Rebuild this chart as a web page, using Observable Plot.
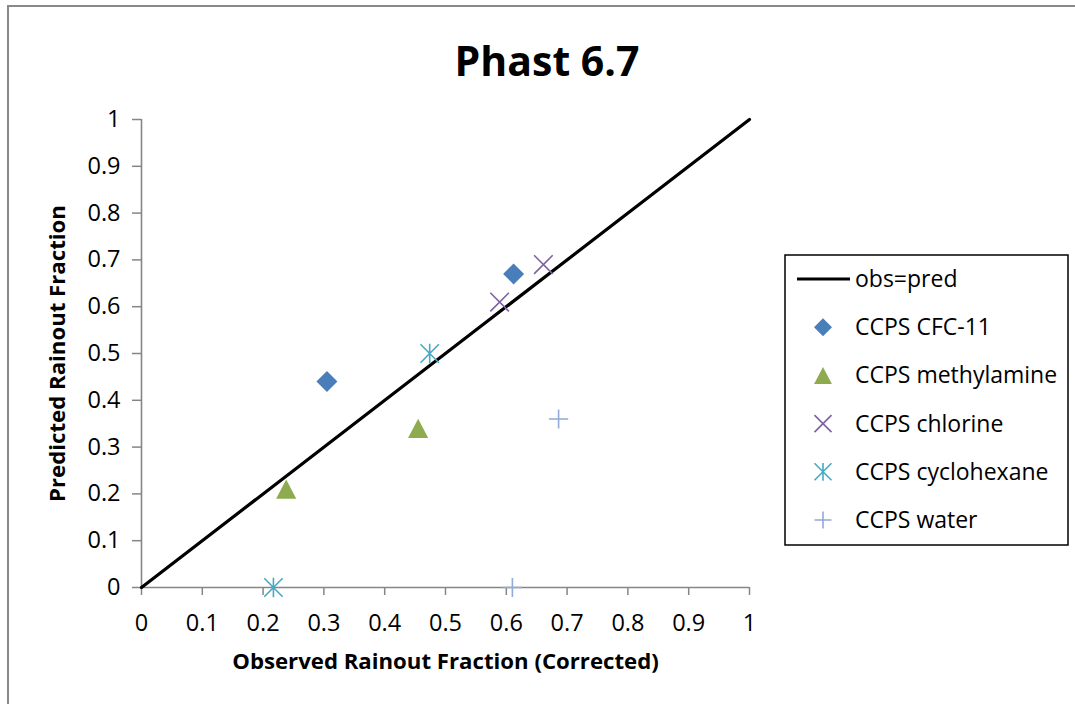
<!DOCTYPE html>
<html>
<head>
<meta charset="utf-8">
<script src="https://cdn.jsdelivr.net/npm/d3@7"></script>
<script src="https://cdn.jsdelivr.net/npm/@observablehq/plot@0.6"></script>
<style>
  html, body { margin: 0; padding: 0; background: #fff; }
  #chart { position: relative; width: 1075px; height: 704px; overflow: hidden; font-family: "Open Sans", Lato, sans-serif; }
  #frame { position: absolute; left: 7px; top: 5px; right: -10px; bottom: -10px; border-top: 2px solid #898989; border-left: 2px solid #898989; }
  #title { position: absolute; left: 0; top: 30px; width: 1094px; text-align: center; font-weight: 700; font-size: 41px; line-height: 60px; color: #000; }
  #plot { position: absolute; left: 0; top: 0; }
  #legend { position: absolute; left: 784px; top: 254px; }
</style>
</head>
<body>
<div id="chart">
  <div id="frame"></div>
  <div id="plot"></div>
  <div id="title"></div>
  <div id="legend"></div>
</div>
<script>
// ---- data ----
const chartTitle = "Phast 6.7";
const xTitle = "Observed Rainout Fraction (Corrected)";
const yTitle = "Predicted Rainout Fraction";
const lineName = "obs=pred";
const seriesNames = ["CCPS CFC-11", "CCPS methylamine", "CCPS chlorine", "CCPS cyclohexane", "CCPS water"];
const seriesColors = ["#4A7EBB", "#8EAC4F", "#7E62A0", "#47A9C4", "#93ABD8"];

const lineObs = [0, 1];
const linePred = [0, 1];
const cfc11Obs = [0.305, 0.612];
const cfc11Pred = [0.44, 0.67];
const methylamineObs = [0.238, 0.455];
const methylaminePred = [0.21, 0.34];
const chlorineObs = [0.589, 0.661];
const chlorinePred = [0.61, 0.69];
const cyclohexaneObs = [0.474, 0.217];
const cyclohexanePred = [0.50, 0.0];
const waterObs = [0.686, 0.61];
const waterPred = [0.36, 0.0];

const tickValues = [0, 0.1, 0.2, 0.3, 0.4, 0.5, 0.6, 0.7, 0.8, 0.9, 1];
const tickLabels = ["0", "0.1", "0.2", "0.3", "0.4", "0.5", "0.6", "0.7", "0.8", "0.9", "1"];

// ---- symbols (Excel-like markers) ----
const rOf = (size) => Math.sqrt(size / Math.PI);
const symDiamond = { draw(c, size) { const h = rOf(size); c.moveTo(0, -h); c.lineTo(h, 0); c.lineTo(0, h); c.lineTo(-h, 0); c.closePath(); } };
const symTriangle = { draw(c, size) { const h = rOf(size); c.moveTo(0, -h); c.lineTo(h * 1.05, h); c.lineTo(-h * 1.05, h); c.closePath(); } };
const symTimes = { draw(c, size) { const h = rOf(size); c.moveTo(-h, -h); c.lineTo(h, h); c.moveTo(-h, h); c.lineTo(h, -h); } };
const symAsterisk = { draw(c, size) { const h = rOf(size); c.moveTo(-h, -h); c.lineTo(h, h); c.moveTo(-h, h); c.lineTo(h, -h); c.moveTo(0, -h * 1.05); c.lineTo(0, h * 1.05); } };
const symPlus = { draw(c, size) { const h = rOf(size); c.moveTo(-h, 0); c.lineTo(h, 0); c.moveTo(0, -h); c.lineTo(0, h); } };

const seriesDefs = [
  { name: seriesNames[0], obs: cfc11Obs, pred: cfc11Pred, symbol: symDiamond, filled: true, r: 10.5, lr: 9 },
  { name: seriesNames[1], obs: methylamineObs, pred: methylaminePred, symbol: symTriangle, filled: true, r: 9.6, lr: 8.5 },
  { name: seriesNames[2], obs: chlorineObs, pred: chlorinePred, symbol: symTimes, filled: false, r: 9.3, lr: 8.5 },
  { name: seriesNames[3], obs: cyclohexaneObs, pred: cyclohexanePred, symbol: symAsterisk, filled: false, r: 9.2, lr: 8.5 },
  { name: seriesNames[4], obs: waterObs, pred: waterPred, symbol: symPlus, filled: false, r: 9.6, lr: 8.5 }
];
seriesDefs.forEach((d, i) => d.color = seriesColors[i]);

const rows = (xs, ys) => xs.map((x, i) => ({ x, y: ys[i] }));

const dotMarks = seriesDefs.map(d => Plot.dot(rows(d.obs, d.pred), {
  x: "x", y: "y", r: d.r, symbol: d.symbol,
  fill: d.filled ? d.color : "none",
  stroke: d.filled ? "none" : d.color,
  strokeWidth: d.filled ? 0 : 1.6
}));

const font = "'Open Sans', Lato, sans-serif";
const plot = Plot.plot({
  width: 1075,
  height: 704,
  marginLeft: 141,
  marginRight: 326,
  marginTop: 119,
  marginBottom: 117,
  style: { fontFamily: font, background: "transparent", overflow: "visible" },
  x: { domain: [0, 1] },
  y: { domain: [0, 1] },
  marks: [
    Plot.axisX({ ticks: tickValues, tickFormat: (d, i) => tickLabels[i], tickSize: 8, tickPadding: 19, fontSize: 23.5, stroke: "#868686", strokeWidth: 1.5, fill: "#000", label: null }),
    Plot.axisY({ ticks: tickValues, tickFormat: (d, i) => tickLabels[i], tickSize: 9, tickPadding: 12, fontSize: 23.5, stroke: "#868686", strokeWidth: 1.5, fill: "#000", label: null }),
    Plot.ruleY([0], { stroke: "#868686", strokeWidth: 1.6 }),
    Plot.ruleX([0], { stroke: "#868686", strokeWidth: 1.6 }),
    Plot.text([xTitle], { text: d => d, frameAnchor: "bottom", textAnchor: "middle", lineAnchor: "top", dy: 66, fontSize: 22.2, fontWeight: "bold", fill: "#000" }),
    Plot.text([yTitle], { text: d => d, frameAnchor: "left", textAnchor: "middle", lineAnchor: "top", rotate: -90, dx: -92, fontSize: 22.2, fontWeight: "bold", fill: "#000" }),
    Plot.line(rows(lineObs, linePred), { x: "x", y: "y", stroke: "#000", strokeWidth: 3.2 }),
    ...dotMarks
  ]
});
document.getElementById("plot").appendChild(plot);
document.getElementById("title").textContent = chartTitle;

// ---- legend ----
const lw = 286, lh = 293;
const lsvg = d3.select("#legend").append("svg").attr("width", lw).attr("height", lh)
  .style("font-family", font).style("font-size", "23px");
lsvg.append("rect").attr("x", 1).attr("y", 1).attr("width", 283).attr("height", 290)
  .attr("fill", "#fff").attr("stroke", "#000").attr("stroke-width", 1.5);
const rowY = i => 25 + i * 48.2;
const textX = 71, symX = 39;
lsvg.append("line").attr("x1", 13).attr("x2", 66).attr("y1", rowY(0)).attr("y2", rowY(0))
  .attr("stroke", "#000").attr("stroke-width", 3.2);
lsvg.append("text").attr("x", textX).attr("y", rowY(0)).attr("dy", "0.35em").text(lineName);
seriesDefs.forEach((d, i) => {
  const p = d3.path();
  d.symbol.draw(p, Math.PI * d.lr * d.lr);
  lsvg.append("path").attr("d", p.toString())
    .attr("transform", `translate(${symX},${rowY(i + 1)})`)
    .attr("fill", d.filled ? d.color : "none")
    .attr("stroke", d.filled ? "none" : d.color)
    .attr("stroke-width", 1.6);
  lsvg.append("text").attr("x", textX).attr("y", rowY(i + 1)).attr("dy", "0.35em").text(d.name);
});
</script>
</body>
</html>
